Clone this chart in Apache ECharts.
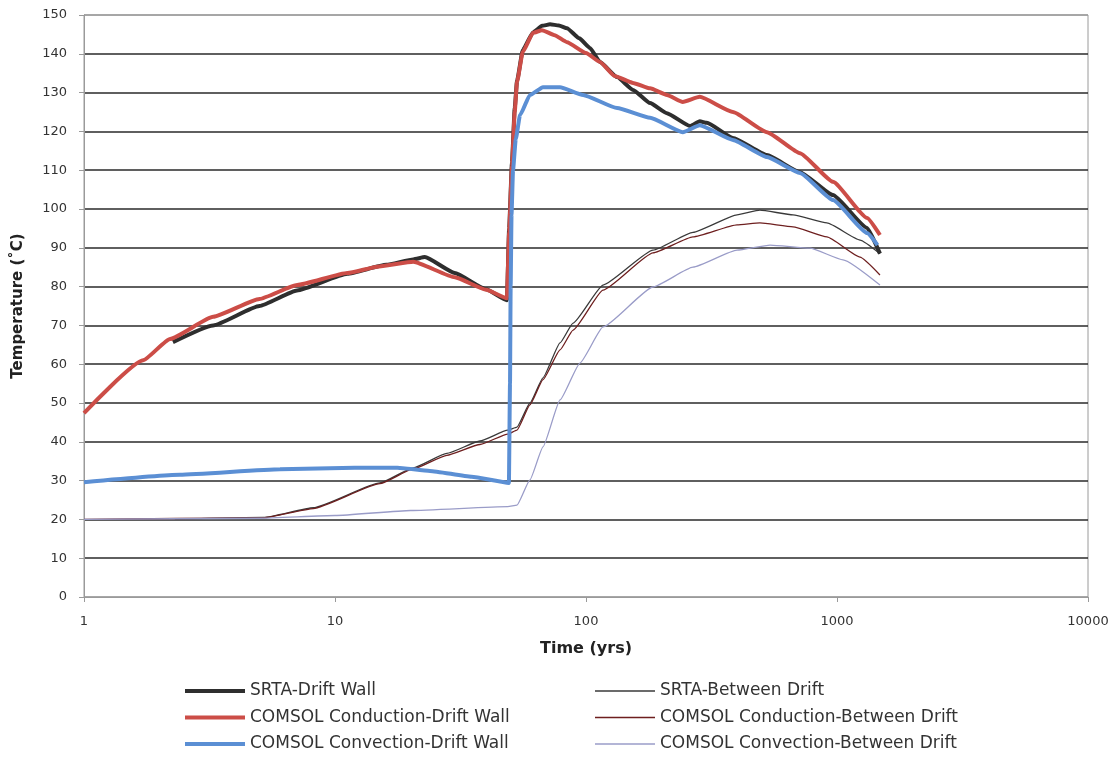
<!DOCTYPE html>
<html>
<head>
<meta charset="utf-8">
<title>Temperature vs Time</title>
<script src="https://cdn.jsdelivr.net/npm/echarts@6/dist/echarts.min.js"></script>
<style>
  html, body { margin: 0; padding: 0; background: #fff; }
  #chart { width: 1120px; height: 759px; }
</style>
</head>
<body>
<div id="chart"></div>
<script>
// Time (yrs) on a log axis, temperature in °C.
const seriesNames = [
  'SRTA-Drift Wall',
  'COMSOL Conduction-Drift Wall',
  'COMSOL Convection-Drift Wall',
  'SRTA-Between Drift',
  'COMSOL Conduction-Between Drift',
  'COMSOL Convection-Between Drift'
];

const yTicks = [0, 10, 20, 30, 40, 50, 60, 70, 80, 90, 100, 110, 120, 130, 140, 150];

// [time, temperature]
const srtaWall = [
  [2.26, 65.7], [3.27, 70.0], [5.0, 75.0], [7.06, 79.0], [11.2, 83.3], [16, 85.6],
  [20.5, 87.0], [22.8, 87.6], [30, 83.5], [40, 79.3], [48.4, 76.5],
  [49.4, 95], [50.7, 112], [52, 126], [53.1, 133], [56, 141], [61.5, 145.5],
  [66.8, 147.2], [71.9, 147.6], [78, 147.3], [84, 146.6], [94, 144],
  [103.7, 141.5], [113.7, 137.9], [133, 134], [154, 130.7], [180, 127.3],
  [210, 124.7], [259.7, 121.4], [284, 122.6], [303, 122.2], [385, 118.3],
  [526, 113.9], [712, 109.5], [964, 103.6], [1318, 95.1], [1483, 88.5]
];

const comsolCondWall = [
  [1, 47.4], [1.72, 61], [2.2, 66.5], [3.27, 72.2], [5.0, 76.8],
  [7.06, 80.4], [11.2, 83.5], [15, 85.2], [20.5, 86.4], [30, 82.4], [40, 79.2],
  [48.4, 77], [49.4, 94], [50.7, 111], [52, 125], [53.1, 132.7], [56, 140.5],
  [61.5, 145.4], [66.8, 146.1], [75, 144.8], [84, 143], [100, 140.2],
  [113.7, 137.9], [130, 134.3], [153.9, 132.5], [180, 131.1], [210, 129.4],
  [243, 127.6], [284, 128.9], [385, 125], [526, 119.8], [712, 114.4],
  [964, 107], [1318, 97.7], [1483, 93.3]
];

const comsolConvWall = [
  [1, 29.6], [2.41, 31.5], [6.04, 32.9], [12, 33.3], [17.7, 33.3], [23.9, 32.5],
  [35, 31], [49.3, 29.4], [49.8, 55], [50.1, 80], [50.5, 98.5], [51.2, 110],
  [52.5, 118], [54.6, 124.2], [59.8, 129.4], [67.4, 131.4], [78.8, 131.4],
  [97.3, 129.4], [133, 126], [180, 123.5], [243, 119.8], [284, 121.6],
  [385, 117.8], [526, 113.4], [712, 109.3], [964, 102.3], [1318, 93.8], [1450, 90.7]
];

const srtaBetween = [
  [2.3, 20], [5.2, 20.5], [8.2, 23], [15.1, 29.4], [20.5, 33.3], [27.9, 37],
  [37.8, 40.2], [48.8, 43], [53.1, 43.8], [59.8, 50], [67.4, 56.5],
  [78.8, 65.5], [88.8, 70.6], [116.9, 80.4], [184.9, 89.4], [266.8, 94],
  [399.6, 98.5], [493, 99.7], [668, 98.5], [912, 96.4], [1235, 92], [1483, 88.5]
];

const comsolCondBetween = [
  [1, 20], [5.2, 20.4], [8.2, 22.8], [15.1, 29.2], [20.5, 33], [27.9, 36.5],
  [37.8, 39.3], [48.8, 42], [53.1, 43], [59.8, 49.5], [67.4, 56],
  [78.8, 63.7], [88.8, 68.8], [116.9, 79.1], [184.9, 88.7], [266.8, 92.8],
  [399.6, 95.9], [493, 96.4], [668, 95.4], [912, 92.8], [1235, 87.6], [1483, 83]
];

const comsolConvBetween = [
  [1, 20], [5, 20.3], [10, 21], [20, 22.3], [48.8, 23.3], [53.1, 23.7],
  [59.8, 30.2], [67.4, 38.7], [78.8, 50.8], [94.6, 60.3], [116.9, 69.6],
  [184.9, 79.9], [266.8, 85], [399.6, 89.4], [541, 90.7], [780, 89.9],
  [1057, 86.9], [1483, 80.4]
];

const colors = ['#2e2e2e', '#cc4d47', '#5b8fd4', '#3a3a3a', '#6e1f1f', '#9a9cc8'];
const seriesData = [srtaWall, comsolCondWall, comsolConvWall, srtaBetween, comsolCondBetween, comsolConvBetween];
const widths = [4, 4, 4, 1.3, 1.3, 1.3];

const fontFamily = 'Verdana, "DejaVu Sans", sans-serif';

// Interior grid lines dark, outer frame lines gray
const splitColors = yTicks.map((v, i) => (i === 0 || i === yTicks.length - 1) ? '#9a9a9a' : '#2a2a2a');

const chart = echarts.init(document.getElementById('chart'), null, { renderer: 'canvas' });

const series = seriesData.map((d, i) => ({
  name: seriesNames[i],
  type: 'line',
  data: d,
  showSymbol: false,
  symbol: 'none',
  smooth: 0.15,
  smoothMonotone: 'x',
  z: i < 3 ? 3 + i : 2,
  lineStyle: { color: colors[i], width: widths[i] },
  itemStyle: { color: colors[i] },
  animation: false
}));

const legendBase = {
  orient: 'vertical',
  top: 681,
  height: 78,
  padding: 0,
  icon: 'rect',
  itemWidth: 60,
  itemGap: 6.5,
  itemTextGap: 2,
  selectedMode: false,
  textStyle: { fontFamily, fontSize: 17, color: '#333', lineHeight: 20 }
};

chart.setOption({
  animation: false,
  backgroundColor: '#ffffff',
  grid: {
    left: 84, right: 32, top: 15, bottom: 162,
    show: true, borderColor: '#9a9a9a', borderWidth: 1, backgroundColor: 'transparent'
  },
  xAxis: {
    type: 'log',
    logBase: 10,
    min: 1,
    max: 10000,
    name: 'Time (yrs)',
    nameLocation: 'middle',
    nameGap: 44,
    nameTextStyle: { fontFamily, fontSize: 16, fontWeight: 'bold', color: '#222' },
    axisLine: { show: true, lineStyle: { color: '#9a9a9a', width: 1 } },
    axisTick: { show: true, length: 5, lineStyle: { color: '#9a9a9a' } },
    minorTick: { show: false },
    splitLine: { show: false },
    axisLabel: { fontFamily, fontSize: 13, color: '#333', margin: 18, formatter: v => String(v) }
  },
  yAxis: {
    type: 'value',
    min: 0,
    max: 150,
    interval: 10,
    name: 'Temperature (˚C)',
    nameLocation: 'middle',
    nameGap: 58,
    nameTextStyle: { fontFamily, fontSize: 15, fontWeight: 'bold', color: '#222' },
    axisLine: { show: true, lineStyle: { color: '#9a9a9a', width: 1 } },
    axisTick: { show: true, length: 5, lineStyle: { color: '#9a9a9a' } },
    splitLine: { show: true, lineStyle: { color: splitColors, width: 1.5 } },
    axisLabel: { fontFamily, fontSize: 13, color: '#333', margin: 17 }
  },
  legend: [
    Object.assign({}, legendBase, { data: seriesNames.slice(0, 3), left: 185, itemHeight: 4 }),
    Object.assign({}, legendBase, { data: seriesNames.slice(3), left: 595, itemHeight: 1.5 })
  ],
  series
});
</script>
</body>
</html>
